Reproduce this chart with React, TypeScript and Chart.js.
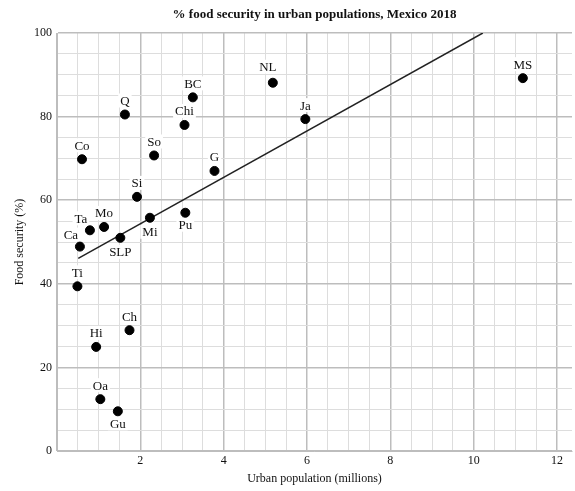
import React, { useEffect, useRef } from "react";
import { Chart, registerables } from "chart.js";

Chart.register(...registerables);

const chartTitle = "% food security in urban populations, Mexico 2018";
const xTitle = "Urban population (millions)";
const yTitle = "Food security (%)";

const states = ["NL", "BC", "Q", "Chi", "Co", "So", "G", "Si", "Mi", "Pu", "Mo", "Ta", "Ca", "SLP", "MS", "Ja", "Ti", "Ch", "Hi", "Oa", "Gu"];
const urbanPop = [5.18, 3.26, 1.63, 3.06, 0.6, 2.33, 3.78, 1.92, 2.23, 3.08, 1.13, 0.79, 0.55, 1.52, 11.18, 5.96, 0.49, 1.74, 0.94, 1.04, 1.46];
const foodSecurity = [88.1, 84.6, 80.5, 78.0, 69.8, 70.7, 67.0, 60.8, 55.8, 57.0, 53.6, 52.8, 48.9, 51.0, 89.2, 79.4, 39.4, 28.9, 24.9, 12.4, 9.5];
const labelPlacement = ["aboveLeftSmall", "above", "above", "above", "above", "above", "above", "above", "below", "belowNear", "above", "aboveLeft", "aboveLeft", "below", "above", "above", "above", "above", "above", "above", "belowNear"];

const trendX = [0.51, 10.22];
const trendY = [46.1, 100];

const X_MIN = 0;
const X_MAX = 12.36;
const X_STEP = 0.5;
const X_LAST_TICK = 12;

const SERIF = '"Liberation Serif", "DejaVu Serif", serif';

const placementOffsets: Record<string, [number, number]> = {
  above: [0, -14],
  below: [0, 14],
  belowNear: [0, 12],
  aboveLeft: [-9, -12],
  aboveLeftSmall: [-5, -16],
};

const labelsPlugin = {
  id: "pointLabels",
  beforeDatasetsDraw(chart: any) {
    const ctx = chart.ctx;
    const meta = chart.getDatasetMeta(0);
    ctx.save();
    ctx.font = `13px ${SERIF}`;
    ctx.textAlign = "center";
    ctx.textBaseline = "middle";
    meta.data.forEach((el: any, i: number) => {
      const [dx, dy] = placementOffsets[labelPlacement[i]] || [0, -14];
      const x = el.x + dx;
      const y = el.y + dy;
      const w = ctx.measureText(states[i]).width;
      ctx.fillStyle = "#ffffff";
      ctx.fillRect(x - w / 2 - 2, y - 7, w + 4, 14);
      ctx.fillStyle = "#111111";
      ctx.fillText(states[i], x, y + 1);
    });
    ctx.restore();
  },
  afterDraw(chart: any) {
    const ctx = chart.ctx;
    const area = chart.chartArea;
    ctx.save();
    ctx.font = `bold 13px ${SERIF}`;
    ctx.textAlign = "center";
    ctx.textBaseline = "middle";
    ctx.fillStyle = "#111111";
    ctx.fillText(chartTitle, (area.left + area.right) / 2, 15);
    ctx.restore();
  },
};

const near = (v: number, step: number) => Math.abs(v / step - Math.round(v / step)) < 1e-6;

export default function App() {
  const ref = useRef<HTMLCanvasElement>(null);
  useEffect(() => {
    if (!ref.current) return;
    const chart = new Chart(ref.current, {
      type: "scatter",
      data: {
        datasets: [
          {
            data: urbanPop.map((x, i) => ({ x, y: foodSecurity[i] })),
            backgroundColor: "#000000",
            borderColor: "#000000",
            pointRadius: 4.5,
            pointHoverRadius: 4.5,
            order: 1,
          },
          {
            type: "line",
            data: trendX.map((x, i) => ({ x, y: trendY[i] })),
            borderColor: "#222222",
            borderWidth: 1.5,
            pointRadius: 0,
            showLine: true,
            fill: false,
            order: 2,
          } as any,
        ],
      },
      options: {
        animation: false,
        responsive: false,
        layout: { autoPadding: false, padding: { top: 33, right: 0, left: 0, bottom: 0 } },
        plugins: {
          legend: { display: false },
          tooltip: { enabled: false },
          title: { display: false },
        },
        scales: {
          x: {
            type: "linear",
            min: X_MIN,
            max: X_MAX,
            afterFit: (s: any) => {
              s.height = 40;
            },
            afterBuildTicks: (s: any) => {
              const t: any[] = [];
              for (let v = X_MIN; v <= X_LAST_TICK + 1e-9; v += X_STEP) t.push({ value: Math.round(v * 10) / 10 });
              t.push({ value: X_MAX });
              s.ticks = t;
            },
            ticks: {
              autoSkip: false,
              maxRotation: 0,
              minRotation: 0,
              padding: 3,
              color: "#111111",
              font: { family: SERIF, size: 12 },
              callback: (v: any) => {
                const n = Number(v);
                return n > 0 && near(n, 2) ? String(Math.round(n)) : "";
              },
            },
            grid: {
              drawTicks: false,
              color: (c: any) => {
                const v = c.tick ? c.tick.value : 0;
                if (!near(v, 0.5)) return "rgba(0,0,0,0)";
                return near(v, 2) ? "#bdbdbd" : "#dddddd";
              },
              lineWidth: (c: any) => {
                const v = c.tick ? c.tick.value : 0;
                return near(v, 2) ? 1.5 : 1;
              },
            },
            border: { display: true, color: "#bdbdbd", width: 1 },
            title: {
              display: true,
              text: xTitle,
              color: "#111111",
              font: { family: SERIF, size: 12 },
              padding: { top: 0, bottom: 5 },
            },
          },
          y: {
            type: "linear",
            min: 0,
            max: 100,
            afterFit: (s: any) => {
              s.width = 57;
            },
            ticks: {
              stepSize: 5,
              autoSkip: false,
              padding: 5,
              color: "#111111",
              font: { family: SERIF, size: 12 },
              callback: (v: any) => {
                const n = Number(v);
                return near(n, 20) ? String(Math.round(n)) : "";
              },
            },
            grid: {
              drawTicks: false,
              color: (c: any) => {
                const v = c.tick ? c.tick.value : 0;
                return near(v, 20) ? "#bdbdbd" : "#dddddd";
              },
              lineWidth: (c: any) => {
                const v = c.tick ? c.tick.value : 0;
                return near(v, 20) ? 1.5 : 1;
              },
            },
            border: { display: true, color: "#bdbdbd", width: 1 },
            title: {
              display: true,
              text: yTitle,
              color: "#111111",
              font: { family: SERIF, size: 12 },
              padding: { top: 13, bottom: 0 },
            },
          },
        },
      },
      plugins: [labelsPlugin],
    });
    return () => chart.destroy();
  }, []);
  return (
    <div style={{ position: "absolute", left: 0, top: 0, width: 575, height: 491, background: "#ffffff" }}>
      <canvas ref={ref} width={575} height={491} style={{ display: "block" }} />
    </div>
  );
}
